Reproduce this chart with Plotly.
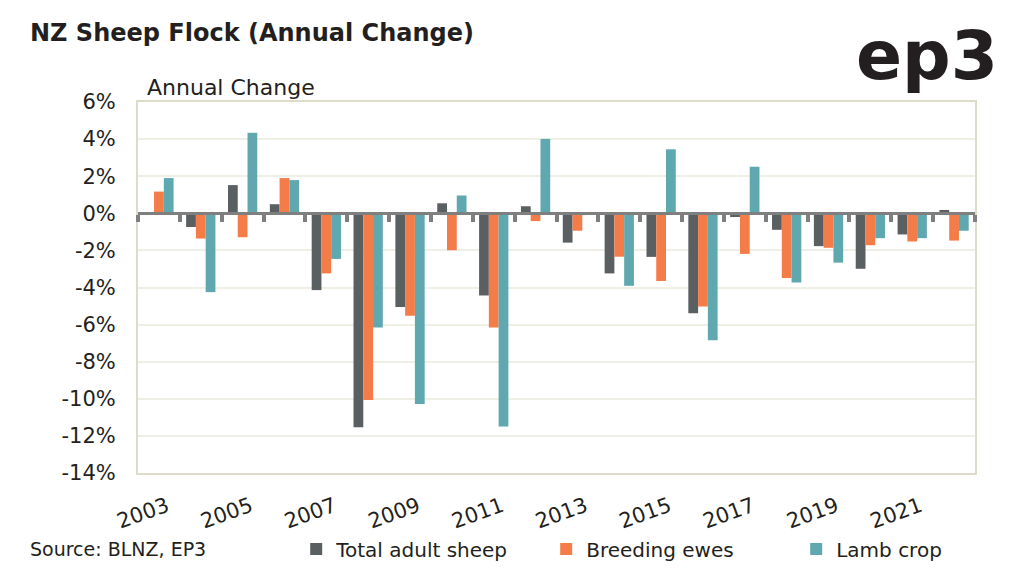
import plotly.graph_objects as go

years = [str(y) for y in range(2003, 2023)]
total_adult_sheep = [0.0, -0.74, 1.52, 0.49, -4.14, -11.54, -5.05, 0.54, -4.43, 0.38,
                     -1.58, -3.24, -2.35, -5.39, -0.2, -0.89, -1.77, -2.99, -1.14, 0.18]
breeding_ewes = [1.17, -1.36, -1.29, 1.9, -3.24, -10.06, -5.52, -1.99, -6.15, -0.42,
                 -0.94, -2.34, -3.65, -5.03, -2.19, -3.49, -1.86, -1.72, -1.52, -1.47]
lamb_crop = [1.9, -4.25, 4.34, 1.79, -2.46, -6.15, -10.28, 0.96, -11.49, 4.01,
             0.05, -3.91, 3.45, -6.84, 2.51, -3.73, -2.66, -1.34, -1.34, -0.94]
tick_years = years[::2]
y_ticks = list(range(-14, 7, 2))
y_tick_text = [f"{v}%" for v in y_ticks]

FONT = "DejaVu Sans"
TXT = "#231f20"

fig = go.Figure()
fig.add_bar(x=years, y=total_adult_sheep, name="Total adult sheep", marker_color="#5a5f61")
fig.add_bar(x=years, y=breeding_ewes, name="Breeding ewes", marker_color="#f47c48")
fig.add_bar(x=years, y=lamb_crop, name="Lamb crop", marker_color="#5fa8b0")
fig.update_traces(marker_line_width=0)

# invisible helper trace so the zero-line category axis (with boundary ticks) is drawn
fig.add_scatter(x=years, y=[0] * len(years), xaxis="x2", mode="none",
                showlegend=False, hoverinfo="skip")

n = len(years)
fig.update_layout(
    width=1024, height=570,
    margin=dict(l=130, r=57, t=94, b=105, autoexpand=False),
    paper_bgcolor="white", plot_bgcolor="white",
    barmode="group", bargap=0.3, bargroupgap=0.0,
    font=dict(family=FONT, color=TXT, size=18),
    showlegend=True,
    legend=dict(orientation="h", x=0.189, y=-0.205, xanchor="left", yanchor="middle",
                font=dict(size=20, color=TXT), itemwidth=30, traceorder="normal",
                entrywidth=205, entrywidthmode="pixels"),
    xaxis=dict(type="category", categoryorder="array", categoryarray=years,
               tickvals=tick_years, ticktext=tick_years, tickangle=-20,
               tickfont=dict(size=21, color=TXT), ticks="", ticklabelstandoff=11,
               ticklabelshift=8,
               showline=True, linecolor="#dcdcc8", linewidth=2, mirror=True,
               showgrid=False, range=[-0.5, n - 0.5], automargin=False),
    xaxis2=dict(type="category", categoryorder="array", categoryarray=years,
                overlaying="x", anchor="free", position=0.7, range=[-0.5, n - 0.5],
                tickson="boundaries", dtick=1, showticklabels=False,
                ticks="outside", ticklen=7, tickwidth=4, tickcolor="#7f7f7f",
                showline=True, linecolor="#7f7f7f", linewidth=3, showgrid=False,
                zeroline=False, side="bottom", automargin=False, layer="above traces"),
    yaxis=dict(range=[-14, 6], tickvals=y_ticks, ticktext=y_tick_text,
               tickfont=dict(size=21, color=TXT), showgrid=True, gridcolor="#efefe6",
               gridwidth=2, zeroline=False, showline=True, linecolor="#dcdcc8",
               linewidth=2, mirror=True, ticks="", ticklabelstandoff=16,
               automargin=False),
    annotations=[
        dict(text="<b>NZ Sheep Flock (Annual Change)</b>", xref="paper", yref="paper",
             x=-0.131, y=1.186, xanchor="left", yanchor="middle", showarrow=False,
             font=dict(size=24, color=TXT, family=FONT)),
        dict(text="Annual Change", xref="paper", yref="paper", x=0.008, y=1.04,
             xanchor="left", yanchor="middle", showarrow=False,
             font=dict(size=22, color=TXT, family=FONT)),
        dict(text="<b>ep3</b>", xref="paper", yref="paper", x=1.03, y=1.125,
             xanchor="right", yanchor="middle", showarrow=False,
             font=dict(size=68, color=TXT, family=FONT)),
        dict(text="Source: BLNZ, EP3", xref="paper", yref="paper", x=-0.131, y=-0.205,
             xanchor="left", yanchor="middle", showarrow=False,
             font=dict(size=19, color=TXT, family=FONT)),
    ],
)

fig.write_html("out.html")
